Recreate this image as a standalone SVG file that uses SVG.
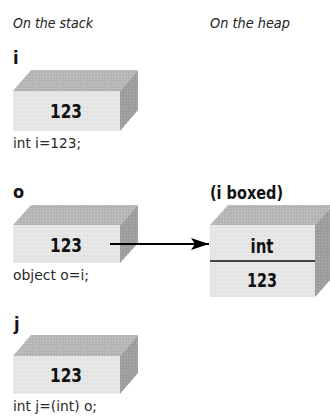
<svg xmlns="http://www.w3.org/2000/svg" width="330" height="419" viewBox="0 0 330 419">
<style>
.hdr{font-family:"DejaVu Sans Condensed","Liberation Sans",sans-serif;font-style:italic;font-size:14px;fill:#222}
.var{font-family:"DejaVu Sans Condensed","Liberation Sans",sans-serif;font-weight:bold;font-size:18px;fill:#111}
.val{font-family:"DejaVu Sans Condensed","Liberation Sans",sans-serif;font-weight:bold;font-size:20px;fill:#111;text-anchor:middle}
.code{font-family:"DejaVu Sans Condensed","Liberation Sans",sans-serif;font-size:14px;fill:#2a2a2a}
.front{fill:url(#dFront)}
.top{fill:url(#dTop)}
.side{fill:url(#dSide)}
.conn{stroke:#000;stroke-width:2;fill:none}
</style>
<defs>
<pattern id="dFront" width="4" height="4" patternUnits="userSpaceOnUse">
<rect width="4" height="4" fill="#e4e4e4"/><rect x="1" y="1" width="1" height="1" fill="#fafafa"/>
</pattern>
<pattern id="dTop" width="3" height="3" patternUnits="userSpaceOnUse">
<rect width="3" height="3" fill="#b4b4b4"/><rect x="1" y="1" width="1" height="1" fill="#cfcfcf"/>
</pattern>
<pattern id="dSide" width="3" height="3" patternUnits="userSpaceOnUse">
<rect width="3" height="3" fill="#9c9c9c"/><rect x="1" y="1" width="1" height="1" fill="#b5b5b5"/>
</pattern>
<marker id="arrowhead" viewBox="0 0 18 12" markerWidth="18" markerHeight="12" refX="18" refY="6" orient="auto" markerUnits="userSpaceOnUse">
<path d="M0,0 L18,6 L0,12 L4,6 Z" fill="#000"/>
</marker>
</defs>
<g id="headers">
<text class="hdr" x="13" y="28" textLength="80" lengthAdjust="spacingAndGlyphs">On the stack</text>
<text class="hdr" x="210" y="28" textLength="80" lengthAdjust="spacingAndGlyphs">On the heap</text>
</g>
<g id="node-i">
<text class="var" x="13" y="64">i</text>
<polygon class="top" points="13,91 31,70 138,70 120,91"/>
<polygon class="side" points="120,91 138,70 138,110 120,131"/>
<rect class="front" x="13" y="91" width="107" height="40"/>
<text class="val" x="66" y="118" textLength="32" lengthAdjust="spacingAndGlyphs">123</text>
<text class="code" x="13" y="148" textLength="68" lengthAdjust="spacingAndGlyphs">int i=123;</text>
</g>
<g id="node-o">
<text class="var" x="13" y="198">o</text>
<polygon class="top" points="13,225 31,205 138,205 120,225"/>
<polygon class="side" points="120,225 138,205 138,243 120,263"/>
<rect class="front" x="13" y="225" width="107" height="38"/>
<text class="val" x="66" y="252" textLength="32" lengthAdjust="spacingAndGlyphs">123</text>
<text class="code" x="13" y="280" textLength="76" lengthAdjust="spacingAndGlyphs">object o=i;</text>
</g>
<g id="node-j">
<text class="var" x="14" y="330">j</text>
<polygon class="top" points="13,356 31,335 138,335 120,356"/>
<polygon class="side" points="120,356 138,335 138,373 120,394"/>
<rect class="front" x="13" y="356" width="107" height="38"/>
<text class="val" x="66" y="382" textLength="32" lengthAdjust="spacingAndGlyphs">123</text>
<text class="code" x="13" y="411" textLength="84" lengthAdjust="spacingAndGlyphs">int j=(int) o;</text>
</g>
<g id="node-boxed">
<text class="var" x="210" y="199" font-size="16" textLength="73" lengthAdjust="spacingAndGlyphs">(i boxed)</text>
<polygon class="top" points="210,225 228,205 333,205 315,225"/>
<polygon class="side" points="315,225 333,205 333,277 315,297"/>
<rect class="front" x="210" y="225" width="105" height="72"/>
<line x1="210" y1="261" x2="315" y2="261" stroke="#444" stroke-width="2"/>
<text class="val" x="262" y="253" textLength="23" lengthAdjust="spacingAndGlyphs">int</text>
<text class="val" x="262" y="287" textLength="30" lengthAdjust="spacingAndGlyphs">123</text>
</g>
<g id="connectors">
<line class="conn" x1="110" y1="244" x2="209" y2="244" marker-end="url(#arrowhead)"/>
</g>
</svg>
